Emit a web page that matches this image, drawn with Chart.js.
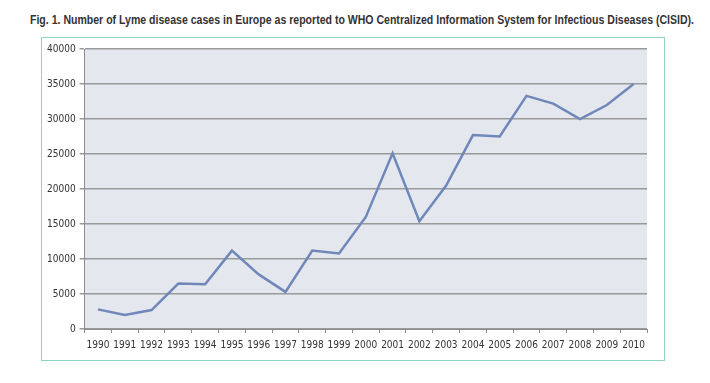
<!DOCTYPE html>
<html>
<head>
<meta charset="utf-8">
<script src="https://cdn.jsdelivr.net/npm/chart.js@4/dist/chart.umd.min.js"></script>
<style>
  html, body { margin: 0; padding: 0; background: #ffffff; width: 710px; height: 383px; overflow: hidden; }
  #title { position: absolute; left: 30px; top: 13px; font-family: "Liberation Sans", sans-serif; font-size: 12.5px; font-weight: bold; color: #333333; white-space: nowrap; transform-origin: 0 0; }
  #frame { position: absolute; left: 41px; top: 37px; width: 622px; height: 322px; border: 1.5px solid #8fd3c3; }
  #frame canvas { display: block; }
</style>
</head>
<body>
<div id="title">Fig. 1. Number of Lyme disease cases in Europe as reported to WHO Centralized Information System for Infectious Diseases (CISID).</div>
<div id="frame"><canvas id="c" width="622" height="322"></canvas></div>
<script>
const years = ["1990","1991","1992","1993","1994","1995","1996","1997","1998","1999","2000","2001","2002","2003","2004","2005","2006","2007","2008","2009","2010"];
const cases = [2800, 2000, 2700, 6500, 6400, 11200, 7800, 5300, 11200, 10800, 16000, 25100, 15400, 20500, 27700, 27500, 33300, 32200, 30000, 32000, 35000];
const yTicks = [0, 5000, 10000, 15000, 20000, 25000, 30000, 35000, 40000];

// fit title to the reference width (condensed look)
const t = document.getElementById('title');
const w = t.getBoundingClientRect().width;
t.style.transform = 'scaleX(' + (664 / w) + ')';

const plotBg = {
  id: 'plotBg',
  beforeDraw(chart) {
    const a = chart.chartArea, ctx = chart.ctx;
    ctx.save();
    ctx.fillStyle = '#e5e7ef';
    ctx.fillRect(a.left, a.top, a.right - a.left, a.bottom - a.top);
    ctx.restore();
  }
};

new Chart(document.getElementById('c'), {
  type: 'line',
  data: {
    labels: years,
    datasets: [{
      data: cases,
      borderColor: '#6f88b9',
      borderWidth: 2.5,
      pointRadius: 0,
      tension: 0,
      fill: false
    }]
  },
  options: {
    responsive: false,
    animation: false,
    layout: { padding: { left: 1, right: 17, top: 11, bottom: 3 } },
    plugins: { legend: { display: false }, tooltip: { enabled: false } },
    scales: {
      x: {
        type: 'category',
        offset: true,
        grid: { display: true, offset: true, drawOnChartArea: false, drawTicks: true, tickLength: 4, color: '#8c8c8c' },
        border: { display: true, color: '#8c8c8c', width: 1 },
        ticks: { color: '#333333', font: { family: 'DejaVu Sans Condensed, sans-serif', size: 10 }, maxRotation: 0, autoSkip: false, padding: 6 }
      },
      y: {
        min: 0, max: 40000,
        afterBuildTicks(scale) { scale.ticks = yTicks.map(v => ({ value: v })); },
        grid: { color: '#9a9a9a', lineWidth: 1.5, tickLength: 5, drawTicks: true },
        border: { display: true, color: '#8c8c8c', width: 1 },
        ticks: { color: '#333333', font: { family: 'DejaVu Sans Condensed, sans-serif', size: 10 }, padding: 4, callback: v => String(v) }
      }
    }
  },
  plugins: [plotBg]
});
</script>
</body>
</html>
